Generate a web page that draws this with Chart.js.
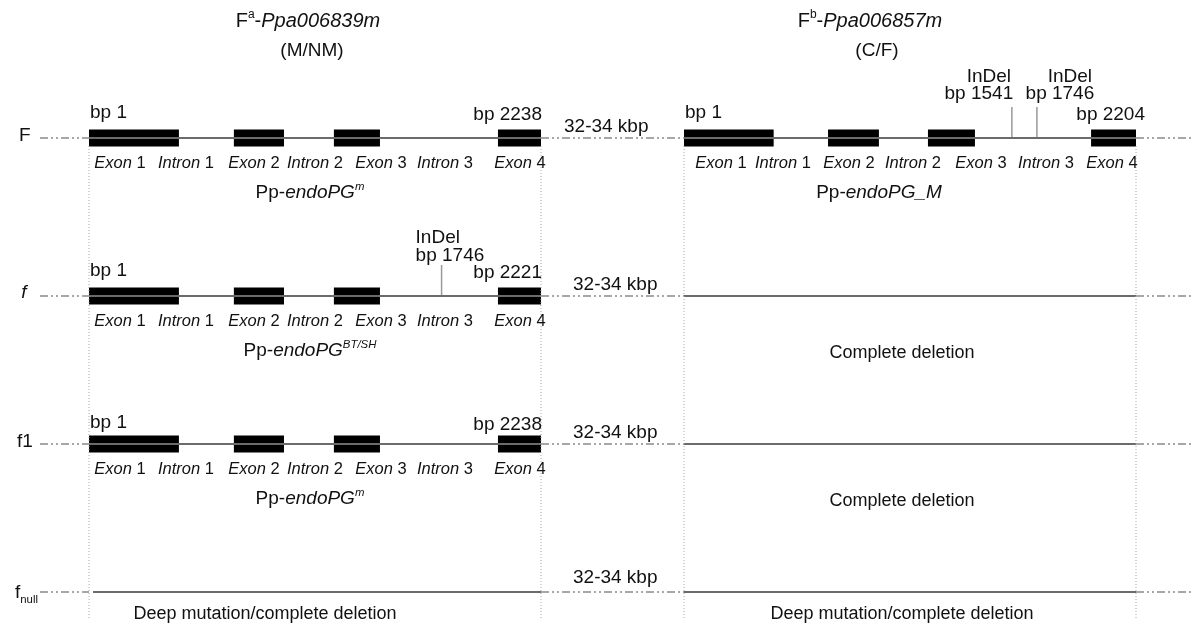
<!DOCTYPE html>
<html>
<head>
<meta charset="utf-8">
<script src="https://cdn.jsdelivr.net/npm/chart.js@4.4.1/dist/chart.umd.min.js"></script>
<style>
  html, body { margin: 0; padding: 0; background: #fff; }
  #wrap { width: 1192px; height: 629px; position: relative; }
</style>
</head>
<body>
<div id="wrap"><canvas id="geneChart"></canvas></div>
<script>
// Genotype rows, top to bottom
var rowNames = ['F', 'f', 'f1', 'fnull'];

// The two genes (A = Ppa006839m, B = Ppa006857m)
var geneIds = ['Ppa006839m', 'Ppa006857m'];
var geneGroups = ['M/NM', 'C/F'];
var geneLengths = [2238, 2204];

// exon spans in bp
var exonsA = [[1, 446], [718, 966], [1213, 1441], [2025, 2238]];
var exonsB = [[1, 438], [703, 951], [1190, 1419], [1985, 2204]];
var segmentLabels = ['Exon 1', 'Intron 1', 'Exon 2', 'Intron 2', 'Exon 3', 'Intron 3', 'Exon 4'];

// what each row carries for gene A / gene B
var geneAPresent = [true, true, true, false];
var geneBPresent = [true, false, false, false];
var endLabelsA = ['bp 2238', 'bp 2221', 'bp 2238', ''];
var endLabelsB = ['bp 2204', '', '', ''];
var alleleA = ['m', 'BT/SH', 'm', ''];
var alleleB = ['_M', '', '', ''];
var indelsA = [[], [1746], [], []];
var indelTextA = [[], ['bp 1746'], [], []];
var indelsB = [[1599, 1721], [], [], []];
var indelTextB = [['bp 1541', 'bp 1746'], [], [], []];
var deletedTextB = ['', 'Complete deletion', 'Complete deletion', 'Deep mutation/complete deletion'];
var deletedTextA = ['', '', '', 'Deep mutation/complete deletion'];
var gapLabel = '32-34 kbp';

// ---- layout (pixels of the 1192x629 frame) ----
var ROW_Y = [138, 296, 444, 592];
var BP_LABEL_DY = [-25, -25, -21, 0];
var GENE_X = [89, 684];
var GENE_W = 452;
var FONT = "'Liberation Sans', Arial, Helvetica, sans-serif";
var LINE_GREY = '#6b6b6b';
var DASH_GREY = '#8a8a8a';

function posX(g, bp) {
  return GENE_X[g] + (bp - 1) / (geneLengths[g] - 1) * GENE_W;
}

// label centres, relative to gene start
var segLabelOffsets = [[31, 97, 165, 226, 292, 356, 431], [37, 99, 165, 229, 297, 362, 428]];

var datasets = [];
function addLine(pts, color, width, dash) {
  datasets.push({
    type: 'scatter',
    data: pts,
    showLine: true,
    pointRadius: 0,
    borderColor: color,
    borderWidth: width,
    borderDash: dash || [],
    borderCapStyle: 'butt',
    tension: 0
  });
}

var texts = [];
function addText(x, y, parts, align, size) {
  texts.push({ x: x, y: y, parts: parts, align: align || 'center', size: size || 19 });
}

// vertical dotted guides
[GENE_X[0], GENE_X[0] + GENE_W, GENE_X[1], GENE_X[1] + GENE_W].forEach(function (x) {
  addLine([{ x: x, y: 146 }, { x: x, y: 618 }], '#a8a8a8', 1, [1, 2]);
});

rowNames.forEach(function (name, r) {
  var y = ROW_Y[r];
  var dd = [8, 3, 2, 3, 2, 3];
  // dash-dot flanks and the inter-gene gap
  addLine([{ x: 40, y: y }, { x: GENE_X[0], y: y }], DASH_GREY, 1.5, dd);
  addLine([{ x: GENE_X[0] + GENE_W, y: y }, { x: GENE_X[1], y: y }], DASH_GREY, 1.5, dd);
  addLine([{ x: GENE_X[1] + GENE_W, y: y }, { x: 1192, y: y }], DASH_GREY, 1.5, dd);
  // backbones
  addLine([{ x: GENE_X[0] + (geneAPresent[r] ? 0 : 4), y: y }, { x: GENE_X[0] + GENE_W, y: y }], LINE_GREY, 2);
  addLine([{ x: GENE_X[1], y: y }, { x: GENE_X[1] + GENE_W, y: y }], LINE_GREY, 2);

  [[geneAPresent, exonsA, indelsA, indelTextA, endLabelsA, alleleA],
   [geneBPresent, exonsB, indelsB, indelTextB, endLabelsB, alleleB]].forEach(function (g, gi) {
    if (!g[0][r]) return;
    g[1].forEach(function (e) {
      addLine([{ x: posX(gi, e[0]), y: y }, { x: posX(gi, e[1]), y: y }], '#000', 17);
    });
    g[2][r].forEach(function (bp, k) {
      var ix = posX(gi, bp);
      addLine([{ x: ix, y: y - 31 }, { x: ix, y: y }], '#9a9a9a', 1.5);
      if (gi === 0) {
        addText(ix - 26, y - 58, [['InDel', '']], 'left');
        addText(ix - 26, y - 40, [[g[3][r][k], '']], 'left');
      } else {
        // the two marks on gene B share one pair of label lines
        var off = k === 0 ? -23 : 33;
        addText(ix + off, y - 61, [['InDel', '']], 'center');
        addText(ix + off - 10, y - 44, [[g[3][r][k], '']], 'center');
      }
    });
    addText(GENE_X[gi] + 1, y + BP_LABEL_DY[r], [['bp 1', '']], 'left');
    addText(GENE_X[gi] + GENE_W + (gi === 0 ? 1 : 9), y + BP_LABEL_DY[r] + 2, [[g[4][r], '']], 'right');
    segmentLabels.forEach(function (s, k) {
      var p = s.split(' ');
      addText(GENE_X[gi] + segLabelOffsets[gi][k], y + 25, [[p[0], 'i'], [' ' + p[1], '']], 'center', 16.5);
    });
    var nameParts = [['Pp-', ''], ['endoPG', 'i']];
    if (g[5][r].charAt(0) === '_') nameParts.push([g[5][r], 'i']);
    else nameParts.push([g[5][r], 'isup']);
    addText(GENE_X[gi] + (gi === 0 ? 221 : 195), y + 55, nameParts, 'center');
  });

  if (deletedTextB[r]) addText(GENE_X[1] + 218, y + (r === 3 ? 22 : 57), [[deletedTextB[r], '']], 'center', 18);
  if (deletedTextA[r]) addText(GENE_X[0] + 176, y + 22, [[deletedTextA[r], '']], 'center', 18);

  addText(GENE_X[0] + GENE_W + (r === 0 ? 23 : 32), y - (r === 3 ? 14 : 11), [[gapLabel, '']], 'left');

  // row label
  if (name === 'fnull') addText(15, y + 1, [['f', ''], ['null', 'sub']], 'left');
  else if (name === 'f') addText(24, y - 3, [['f', 'i']], 'center');
  else addText(name === 'f1' ? 17 : 19, y - 2, [[name, '']], 'left');
});

// gene titles
geneIds.forEach(function (id, gi) {
  var cx = gi === 0 ? 308 : 870;
  addText(cx, 21, [['F', ''], [gi === 0 ? 'a' : 'b', 'sup'], ['-', ''], [id, 'i']], 'center', 20);
  addText(cx + (gi === 0 ? 4 : 7), 51, [['(' + geneGroups[gi] + ')', '']], 'center');
});

function fontFor(style, size) {
  var s = style.indexOf('sup') >= 0 || style === 'sub' ? size * 0.6 : size;
  return (style.charAt(0) === 'i' ? 'italic ' : '') + s + 'px ' + FONT;
}

function drawRich(ctx, parts, x, y, align, size) {
  var total = 0;
  parts.forEach(function (p) { ctx.font = fontFor(p[1], size); total += ctx.measureText(p[0]).width; });
  var cx = align === 'center' ? x - total / 2 : align === 'right' ? x - total : x;
  parts.forEach(function (p) {
    ctx.font = fontFor(p[1], size);
    var dy = 0;
    if (p[1].indexOf('sup') >= 0) dy = -size * 0.3;
    if (p[1] === 'sub') dy = size * 0.35;
    ctx.fillText(p[0], cx, y + dy);
    cx += ctx.measureText(p[0]).width;
  });
}

var labelPlugin = {
  id: 'geneLabels',
  afterDatasetsDraw: function (chart) {
    var ctx = chart.ctx, sx = chart.scales.x, sy = chart.scales.y;
    ctx.save();
    ctx.fillStyle = '#111';
    ctx.textAlign = 'left';
    ctx.textBaseline = 'middle';
    texts.forEach(function (t) {
      drawRich(ctx, t.parts, sx.getPixelForValue(t.x), sy.getPixelForValue(t.y), t.align, t.size);
    });
    ctx.restore();
  }
};

new Chart(document.getElementById('geneChart'), {
  type: 'scatter',
  data: { datasets: datasets },
  options: {
    responsive: true,
    maintainAspectRatio: false,
    animation: false,
    events: [],
    layout: { padding: 0 },
    plugins: { legend: { display: false }, tooltip: { enabled: false } },
    scales: {
      x: { type: 'linear', min: 0, max: 1192, display: false },
      y: { type: 'linear', min: 0, max: 629, reverse: true, display: false }
    }
  },
  plugins: [labelPlugin]
});
</script>
</body>
</html>
